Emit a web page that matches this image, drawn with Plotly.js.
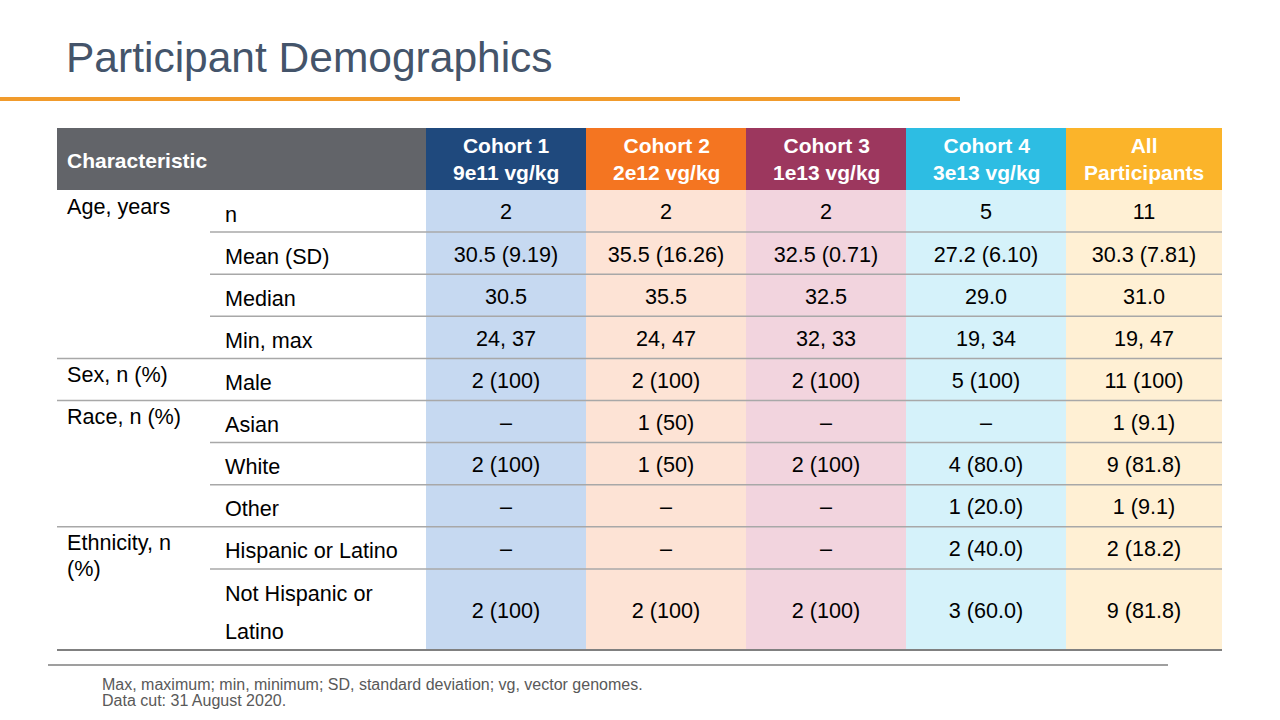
<!DOCTYPE html>
<html><head><meta charset="utf-8">
<script src="https://cdn.plot.ly/plotly-3.0.1.min.js"></script>
<style>html,body{margin:0;padding:0;background:#fff;}#chart{width:1280px;height:720px;}</style>
</head><body><div id="chart"></div>
<script>
// ---------- DATA ----------
const titleText = "Participant Demographics";
const firstHeader = "Characteristic";
const columnHeaders = ["Cohort 1<br>9e11 vg/kg", "Cohort 2<br>2e12 vg/kg", "Cohort 3<br>1e13 vg/kg", "Cohort 4<br>3e13 vg/kg", "All<br>Participants"];
const groups = ["Age, years", "Sex, n (%)", "Race, n (%)", "Ethnicity, n<br>(%)"];
const groupSizes = [4, 1, 3, 2];
const rowLabels = ["n", "Mean (SD)", "Median", "Min, max", "Male", "Asian", "White", "Other", "Hispanic or Latino", "Not Hispanic or<br>Latino"];
const cohort1 = ["2", "30.5 (9.19)", "30.5", "24, 37", "2 (100)", "–", "2 (100)", "–", "–", "2 (100)"];
const cohort2 = ["2", "35.5 (16.26)", "35.5", "24, 47", "2 (100)", "1 (50)", "1 (50)", "–", "–", "2 (100)"];
const cohort3 = ["2", "32.5 (0.71)", "32.5", "32, 33", "2 (100)", "–", "2 (100)", "–", "–", "2 (100)"];
const cohort4 = ["5", "27.2 (6.10)", "29.0", "19, 34", "5 (100)", "–", "4 (80.0)", "1 (20.0)", "2 (40.0)", "3 (60.0)"];
const allParticipants = ["11", "30.3 (7.81)", "31.0", "19, 47", "11 (100)", "1 (9.1)", "9 (81.8)", "1 (9.1)", "2 (18.2)", "9 (81.8)"];
const footnotes = ["Max, maximum; min, minimum; SD, standard deviation; vg, vector genomes.", "Data cut: 31 August 2020."];

// ---------- STYLE / GEOMETRY ----------
const valueColumns = [cohort1, cohort2, cohort3, cohort4, allParticipants];
const headerColors = ["#1F497D", "#F47521", "#9C375E", "#2DBDE3", "#FBB42A"];
const bodyColors = ["#C6D9F1", "#FDE3D5", "#F2D4DE", "#D5F2FA", "#FFF0D4"];
const headerGray = "#626469";
const colEdges = [57, 210, 426, 586, 746, 906, 1066, 1222];
const headerTop = 128, headerBottom = 190;
const rowUnit = 42.1;
const rowHeights = rowLabels.map(l => l.includes("<br>") ? 81 : rowUnit);
const rowEdges = [headerBottom];
rowHeights.forEach(h => rowEdges.push(rowEdges[rowEdges.length - 1] + h));
const font = "'Liberation Sans', Arial, sans-serif";
const fs = 21.6;
const hfs = 21;

const shapes = [];
const annotations = [];
const traces = [];

// orange rule under title
shapes.push({type: "line", xref: "x", yref: "y", x0: 0, x1: 960, y0: 99, y1: 99, line: {color: "#F19B2C", width: 4}});

// header cells
shapes.push({type: "rect", xref: "x", yref: "y", x0: colEdges[0], x1: colEdges[2], y0: headerTop, y1: headerBottom, fillcolor: headerGray, line: {width: 0}, layer: "below"});
annotations.push({xref: "x", yref: "y", x: colEdges[0] + 8, y: (headerTop + headerBottom) / 2 + 1, text: "<b>" + firstHeader + "</b>", showarrow: false, xanchor: "left", yanchor: "middle", font: {family: font, size: hfs, color: "#FFFFFF"}});
columnHeaders.forEach((h, i) => {
  const x0 = colEdges[i + 2], x1 = colEdges[i + 3];
  shapes.push({type: "rect", xref: "x", yref: "y", x0: x0, x1: x1, y0: headerTop, y1: headerBottom, fillcolor: headerColors[i], line: {width: 0}, layer: "below"});
  shapes.push({type: "rect", xref: "x", yref: "y", x0: x0, x1: x1, y0: headerBottom, y1: rowEdges[rowEdges.length - 1], fillcolor: bodyColors[i], line: {width: 0}, layer: "below"});
  annotations.push({xref: "x", yref: "y", x: (x0 + x1) / 2, y: (headerTop + headerBottom) / 2, text: "<b>" + h + "</b>", showarrow: false, xanchor: "center", yanchor: "middle", font: {family: font, size: hfs, color: "#FFFFFF"}});
});

// group boundaries
const groupStart = [];
let acc = 0;
groupSizes.forEach(s => { groupStart.push(acc); acc += s; });

// row lines
for (let r = 1; r <= rowLabels.length; r++) {
  const y = rowEdges[r];
  const isLast = r === rowLabels.length;
  const isGroup = isLast || groupStart.includes(r);
  shapes.push({type: "line", xref: "x", yref: "y", x0: isGroup ? colEdges[0] : colEdges[1], x1: colEdges[colEdges.length - 1], y0: y, y1: y,
    line: {color: isLast ? "#808080" : "#A8A8A8", width: isLast ? 2 : 1.5}});
}

// group labels
groups.forEach((g, gi) => {
  const top = rowEdges[groupStart[gi]];
  g.split("<br>").forEach((line, li) => {
    annotations.push({xref: "x", yref: "y", x: colEdges[0] + 8, y: top + 16 + li * 25.5, text: line, showarrow: false, xanchor: "left", yanchor: "middle", font: {family: font, size: fs, color: "#000000"}});
  });
});

// row labels
rowLabels.forEach((lab, r) => {
  const c = (rowEdges[r] + rowEdges[r + 1]) / 2;
  const lines = lab.split("<br>");
  lines.forEach((line, li) => {
    annotations.push({xref: "x", yref: "y", x: colEdges[1] + 13, y: c + 3 + (li - (lines.length - 1) / 2) * 38, text: line, showarrow: false, xanchor: "left", yanchor: "middle", font: {family: font, size: fs, color: "#000000"}});
  });
});

// values as text traces
valueColumns.forEach((col, i) => {
  const xc = (colEdges[i + 2] + colEdges[i + 3]) / 2;
  traces.push({type: "scatter", mode: "text", x: col.map(() => xc), y: col.map((v, r) => (rowEdges[r] + rowEdges[r + 1]) / 2 + 3),
    text: col, textposition: "middle center", textfont: {family: font, size: fs, color: "#000000"}, hoverinfo: "skip", showlegend: false, cliponaxis: false});
});

// footer rule and notes
shapes.push({type: "line", xref: "x", yref: "y", x0: 48, x1: 1168, y0: 665, y1: 665, line: {color: "#7F7F7F", width: 1.5}});
footnotes.forEach((t, i) => {
  annotations.push({xref: "x", yref: "y", x: 100, y: 684 + i * 16.5, text: t, showarrow: false, xanchor: "left", yanchor: "middle", font: {family: font, size: 16, color: "#595959"}});
});

const layout = {
  width: 1280, height: 720,
  margin: {l: 0, r: 0, t: 0, b: 0, pad: 0},
  paper_bgcolor: "#FFFFFF", plot_bgcolor: "#FFFFFF",
  title: {text: titleText, x: 66 / 1280, xanchor: "left", xref: "paper", y: 1 - 57 / 720, yanchor: "middle", yref: "paper",
    font: {family: font, size: 42.5, color: "#44546A"}},
  xaxis: {range: [0, 1280], visible: false, fixedrange: true},
  yaxis: {range: [720, 0], visible: false, fixedrange: true},
  shapes: shapes, annotations: annotations, showlegend: false, hovermode: false
};
Plotly.newPlot("chart", traces, layout, {staticPlot: true, displayModeBar: false});
</script></body></html>
